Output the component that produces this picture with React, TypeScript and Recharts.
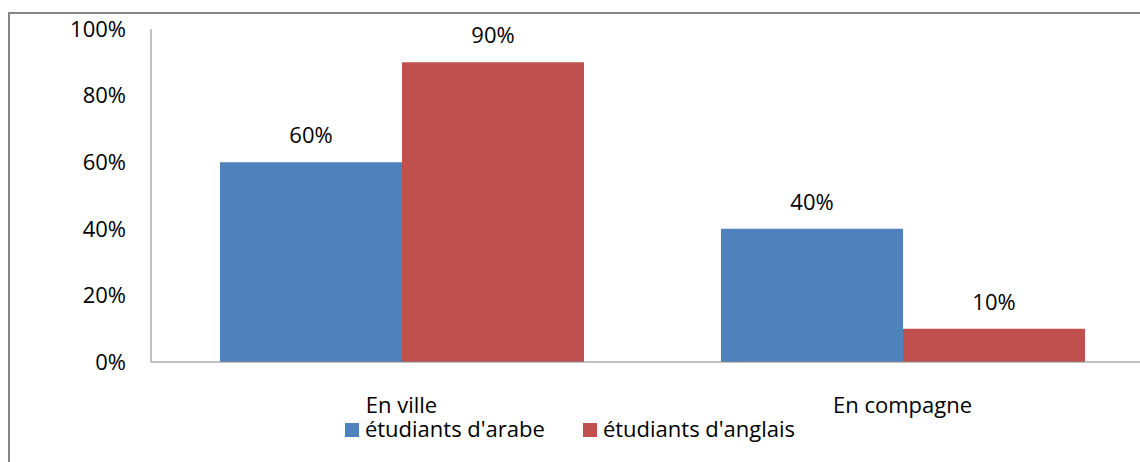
import React from 'react';
import { BarChart, Bar, XAxis, YAxis, Legend, LabelList } from 'recharts';

const categories = ['En ville', 'En compagne'];
const arabe = [60, 40];
const anglais = [90, 10];
const yTicks = [0, 20, 40, 60, 80, 100];

const seriesNames = {
  arabe: "étudiants d'arabe",
  anglais: "étudiants d'anglais",
};
const legendOrder = [seriesNames.arabe, seriesNames.anglais];

const BLUE = '#4F81BD';
const RED = '#C0504D';
const AXIS = '#868686';
const FONT = '"Open Sans", sans-serif';

const data = categories.map((category, i) => ({
  category,
  arabe: arabe[i],
  anglais: anglais[i],
}));

const tickStyle = { fill: '#000', fontSize: 22, fontFamily: FONT };

// legend in the Excel style: small squares followed by the series name
const renderLegend = (props: any) => {
  const items = [...(props.payload || [])].sort(
    (a: any, b: any) => legendOrder.indexOf(a.value) - legendOrder.indexOf(b.value)
  );
  return (
    <div style={{ display: 'flex', justifyContent: 'center', fontFamily: FONT, fontSize: 22, color: '#000' }}>
      {items.map((entry: any, i: number) => (
        <div key={entry.value} style={{ display: 'flex', alignItems: 'center', marginLeft: i > 0 ? 38 : 0 }}>
          <span style={{ width: 14, height: 14, background: entry.color, marginRight: 6, marginTop: 3 }} />
          <span>{entry.value}</span>
        </div>
      ))}
    </div>
  );
};

const pct = (v: any) => `${v}%`;

export default function App() {
  return (
    <div style={{ position: 'relative', width: 1140, height: 462, overflow: 'hidden', background: '#fff' }}>
      <style>{'body{margin:0;overflow:hidden}'}</style>
      <div
        style={{
          position: 'absolute',
          left: 8,
          top: 12,
          width: 1300,
          height: 600,
          border: `2px solid ${AXIS}`,
          pointerEvents: 'none',
        }}
      />
      <BarChart
        width={1160}
        height={462}
        data={data}
        margin={{ top: 29, right: 7, bottom: 40, left: 0 }}
        barCategoryGap={69}
        barGap={0}
      >
        <XAxis
          dataKey="category"
          height={60}
          tickLine={false}
          tickSize={0}
          tickMargin={35}
          axisLine={{ stroke: AXIS }}
          tick={tickStyle}
        />
        <YAxis
          width={151}
          domain={[0, 100]}
          ticks={yTicks}
          interval={0}
          tickFormatter={pct}
          tickLine={false}
          tickSize={0}
          tickMargin={25}
          axisLine={{ stroke: AXIS }}
          tick={tickStyle}
        />
        <Legend
          layout="horizontal"
          verticalAlign="middle"
          align="center"
          content={renderLegend}
          wrapperStyle={{ left: 0, top: 413, width: 1140 }}
        />
        <Bar dataKey="arabe" name={seriesNames.arabe} fill={BLUE} isAnimationActive={false}>
          <LabelList dataKey="arabe" position="top" offset={19} formatter={pct} style={tickStyle} />
        </Bar>
        <Bar dataKey="anglais" name={seriesNames.anglais} fill={RED} isAnimationActive={false}>
          <LabelList dataKey="anglais" position="top" offset={19} formatter={pct} style={tickStyle} />
        </Bar>
      </BarChart>
    </div>
  );
}
